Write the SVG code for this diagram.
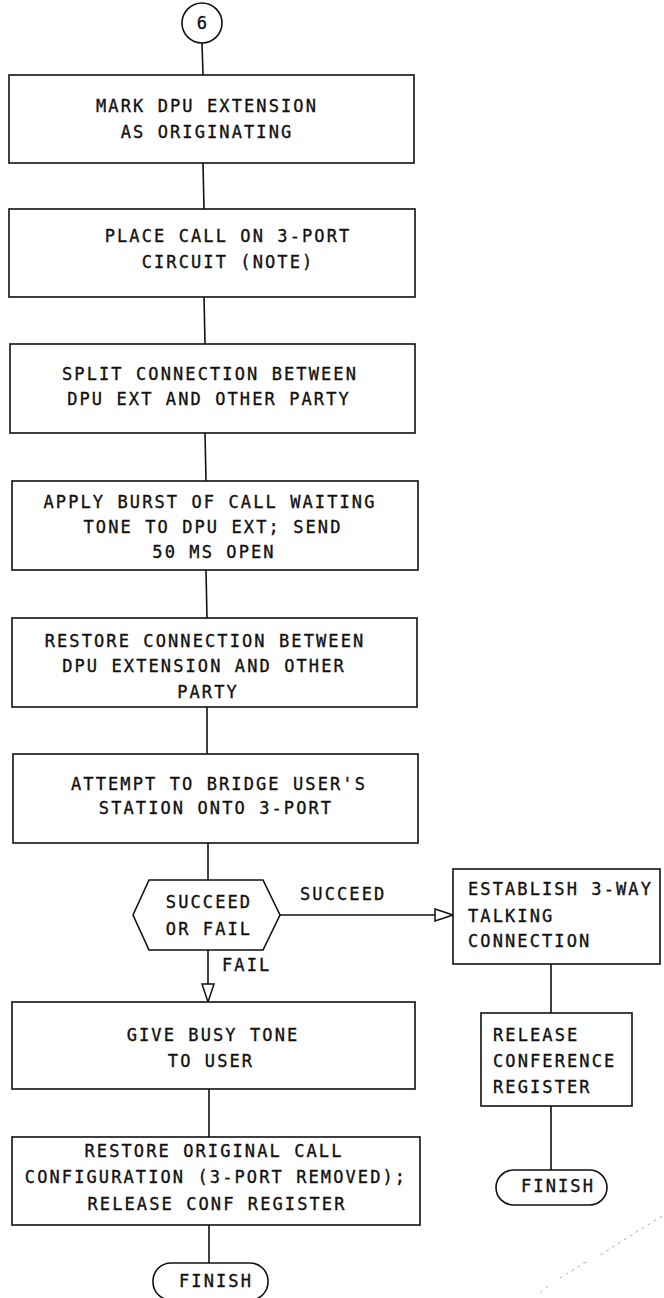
<svg xmlns="http://www.w3.org/2000/svg" width="664" height="1298" viewBox="0 0 664 1298">
  <style>
    .box { fill: #fff; stroke: #111; stroke-width: 1.6; }
    .wire { fill: none; stroke: #111; stroke-width: 1.6; }
    .t { font-family: "DejaVu Sans Mono", "Liberation Mono", monospace; font-size: 17px; letter-spacing: 2.1px; fill: #111; stroke: #111; stroke-width: 0.35; }
    .c { text-anchor: middle; }
  </style>
  <defs>
    <marker id="openArrow" viewBox="0 0 20 14" refX="19" refY="7" markerWidth="20" markerHeight="14" markerUnits="userSpaceOnUse" orient="auto">
      <path d="M1,1 L19,7 L1,13 Z" fill="#fff" stroke="#111" stroke-width="1.5"/>
    </marker>
  </defs>
  <rect width="664" height="1298" fill="#fff"/>

  <!-- connectors -->
  <g id="connectors">
    <line class="wire" x1="202" y1="43" x2="203" y2="75"/>
    <line class="wire" x1="203" y1="163" x2="204" y2="209"/>
    <line class="wire" x1="204" y1="297" x2="205" y2="344"/>
    <line class="wire" x1="205" y1="433" x2="206" y2="481"/>
    <line class="wire" x1="206" y1="570" x2="207" y2="618"/>
    <line class="wire" x1="207" y1="707" x2="207" y2="754"/>
    <line class="wire" x1="208" y1="843" x2="208" y2="880"/>
    <line class="wire" x1="208" y1="950" x2="208" y2="1002" marker-end="url(#openArrow)"/>
    <line class="wire" x1="280" y1="915" x2="453" y2="915" marker-end="url(#openArrow)"/>
    <line class="wire" x1="551" y1="964" x2="551" y2="1013"/>
    <line class="wire" x1="551" y1="1106" x2="551" y2="1170"/>
    <line class="wire" x1="209" y1="1089" x2="209" y2="1137"/>
    <line class="wire" x1="209" y1="1225" x2="209" y2="1263"/>
    <text class="t" x="300" y="900">SUCCEED</text>
    <text class="t" x="222" y="971">FAIL</text>
  </g>

  <g id="start6">
    <circle class="box" cx="202" cy="23" r="20"/>
    <text class="t c" x="203" y="29">6</text>
  </g>

  <g id="markOriginating">
    <rect class="box" x="9" y="75" width="405" height="88"/>
    <text class="t c" x="207" y="112">MARK DPU EXTENSION</text>
    <text class="t c" x="207" y="138">AS ORIGINATING</text>
  </g>

  <g id="placeCall">
    <rect class="box" x="9" y="209" width="406" height="88"/>
    <text class="t c" x="228" y="242">PLACE CALL ON 3-PORT</text>
    <text class="t c" x="228" y="268">CIRCUIT (NOTE)</text>
  </g>

  <g id="splitConnection">
    <rect class="box" x="10" y="344" width="405" height="89"/>
    <text class="t c" x="210" y="380">SPLIT CONNECTION BETWEEN</text>
    <text class="t c" x="209" y="405">DPU EXT AND OTHER PARTY</text>
  </g>

  <g id="applyBurst">
    <rect class="box" x="12" y="481" width="406" height="89"/>
    <text class="t c" x="210" y="508">APPLY BURST OF CALL WAITING</text>
    <text class="t c" x="213" y="533">TONE TO DPU EXT; SEND</text>
    <text class="t c" x="214" y="558">50 MS OPEN</text>
  </g>

  <g id="restoreConnection">
    <rect class="box" x="12" y="618" width="405" height="89"/>
    <text class="t c" x="205" y="647">RESTORE CONNECTION BETWEEN</text>
    <text class="t c" x="204" y="672">DPU EXTENSION AND OTHER</text>
    <text class="t c" x="208" y="698">PARTY</text>
  </g>

  <g id="attemptBridge">
    <rect class="box" x="13" y="754" width="405" height="89"/>
    <text class="t c" x="219" y="790">ATTEMPT TO BRIDGE USER'S</text>
    <text class="t c" x="216" y="814">STATION ONTO 3-PORT</text>
  </g>

  <g id="succeedOrFail">
    <polygon class="box" points="133,915 149,880 263,880 280,915 263,950 149,950"/>
    <text class="t c" x="209" y="908">SUCCEED</text>
    <text class="t c" x="209" y="935">OR FAIL</text>
  </g>

  <g id="establish3Way">
    <rect class="box" x="453" y="869" width="207" height="95"/>
    <text class="t" x="468" y="895">ESTABLISH 3-WAY</text>
    <text class="t" x="468" y="922">TALKING</text>
    <text class="t" x="468" y="947">CONNECTION</text>
  </g>

  <g id="releaseConference">
    <rect class="box" x="481" y="1013" width="151" height="93"/>
    <text class="t" x="493" y="1041">RELEASE</text>
    <text class="t" x="493" y="1067">CONFERENCE</text>
    <text class="t" x="493" y="1093">REGISTER</text>
  </g>

  <g id="finishRight">
    <rect class="box" x="496" y="1170" width="111" height="35" rx="17.5"/>
    <text class="t c" x="558" y="1192">FINISH</text>
  </g>

  <g id="busyTone">
    <rect class="box" x="12" y="1002" width="403" height="87"/>
    <text class="t c" x="213" y="1041">GIVE BUSY TONE</text>
    <text class="t c" x="211" y="1067">TO USER</text>
  </g>

  <g id="restoreOriginal">
    <rect class="box" x="12" y="1137" width="408" height="88"/>
    <text class="t c" x="214" y="1157">RESTORE ORIGINAL CALL</text>
    <text class="t c" x="216" y="1183">CONFIGURATION (3-PORT REMOVED);</text>
    <text class="t c" x="217" y="1210">RELEASE CONF REGISTER</text>
  </g>

  <g id="finishLeft">
    <rect class="box" x="153" y="1263" width="115" height="37" rx="18"/>
    <text class="t c" x="216" y="1287">FINISH</text>
  </g>

  <!-- faint stray pencil stroke, lower right -->
  <path d="M662,1216 L600,1255 M586,1262 L560,1278 M548,1286 L540,1293" fill="none" stroke="#999" stroke-width="0.8" stroke-dasharray="3 4"/>
</svg>
